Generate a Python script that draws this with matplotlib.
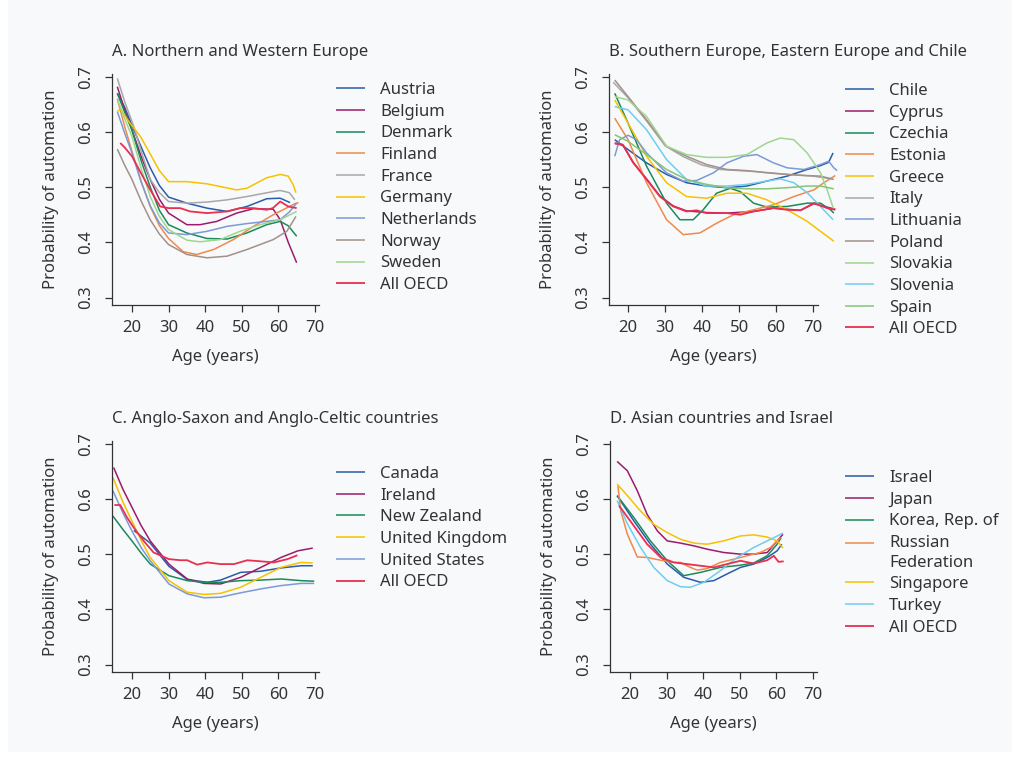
import matplotlib
matplotlib.use("Agg")
import matplotlib.pyplot as plt
import numpy as np
from matplotlib.patches import Rectangle
from matplotlib.lines import Line2D
from matplotlib.legend_handler import HandlerLine2D

plt.rcParams['font.family'] = ['Noto Sans', 'DejaVu Sans']
plt.rcParams['font.size'] = 12

# colours
BLUE = '#2a5caa'
PURPLE = '#9c1c6b'
GREEN = '#1b8a5a'
ORANGE = '#ee8a4a'
GRAY = '#a8a8a8'
YELLOW = '#f6c200'
LBLUE = '#7b9ad6'
BROWN = '#a39189'
LGREEN = '#9fd68f'
CYAN = '#6fcdf0'
SPAIN = '#85c575'
RED = '#e8304f'
INK = '#333333'

# ---- Panel A: Northern and Western Europe ----
austria_age = [16, 18, 20, 22.5, 25, 27.5, 30, 35, 40.5, 46, 51.4, 56.8, 60.5, 63.2]
austria_val = [0.67, 0.645, 0.612, 0.573, 0.535, 0.503, 0.482, 0.471, 0.462, 0.456, 0.465, 0.479, 0.48, 0.472]
belgium_age = [16, 18, 20, 22.5, 25, 27.5, 30, 35, 38.6, 43.2, 48.6, 53.2, 58.6, 60.5, 62.7, 65]
belgium_val = [0.682, 0.64, 0.604, 0.556, 0.514, 0.478, 0.453, 0.432, 0.432, 0.438, 0.453, 0.461, 0.46, 0.441, 0.40, 0.363]
denmark_age = [16, 18, 20, 22.5, 25, 27.5, 30, 35, 40.5, 46, 51.4, 56.8, 60.5, 62.7, 65]
denmark_val = [0.67, 0.636, 0.603, 0.548, 0.50, 0.458, 0.432, 0.417, 0.407, 0.406, 0.417, 0.432, 0.438, 0.43, 0.411]
finland_age = [16, 18, 20, 22.5, 25, 27.5, 30, 34, 37.7, 42.3, 47.7, 53.2, 58.6, 64.5, 65.5]
finland_val = [0.66, 0.61, 0.565, 0.51, 0.465, 0.43, 0.407, 0.383, 0.378, 0.387, 0.405, 0.429, 0.45, 0.47, 0.472]
france_age = [16, 18, 20.5, 23, 25, 27.5, 30, 35, 40.5, 46, 51.4, 58.6, 60.5, 63, 64.5]
france_val = [0.697, 0.655, 0.61, 0.555, 0.514, 0.49, 0.474, 0.471, 0.473, 0.477, 0.483, 0.492, 0.494, 0.49, 0.477]
germany_age = [16.1, 17, 19, 22.3, 25, 27.5, 30, 35, 40.5, 48.6, 51.4, 56.8, 60.5, 62.7, 64, 64.8]
germany_val = [0.638, 0.641, 0.62, 0.592, 0.56, 0.53, 0.51, 0.51, 0.506, 0.495, 0.498, 0.517, 0.523, 0.52, 0.505, 0.49]
netherlands_age = [16, 18, 20, 22.5, 25, 27.5, 30, 35, 40.5, 46, 51.4, 56.8, 60.5, 63, 65]
netherlands_val = [0.637, 0.598, 0.562, 0.51, 0.466, 0.435, 0.417, 0.414, 0.42, 0.429, 0.434, 0.438, 0.441, 0.455, 0.471]
norway_age = [16, 18, 20, 22.5, 25, 27.5, 30, 35, 40.5, 46, 51.4, 58.6, 62.3, 64.8]
norway_val = [0.569, 0.54, 0.514, 0.475, 0.441, 0.415, 0.396, 0.378, 0.372, 0.375, 0.387, 0.405, 0.42, 0.447]
sweden_age = [16.1, 18, 20, 22.5, 25, 27.5, 30, 35, 38.6, 44.1, 49.5, 55, 60.5, 65]
sweden_val = [0.658, 0.624, 0.592, 0.534, 0.483, 0.447, 0.423, 0.404, 0.401, 0.405, 0.42, 0.432, 0.441, 0.456]
oecd_a_age = [16.8, 18, 20, 22.5, 25, 27.7, 30, 33.2, 35.9, 40.5, 46, 49.5, 53.2, 56.8, 58.5, 60.5, 62.7, 65]
oecd_a_val = [0.58, 0.572, 0.556, 0.525, 0.495, 0.465, 0.462, 0.462, 0.456, 0.453, 0.456, 0.462, 0.462, 0.459, 0.462, 0.474, 0.465, 0.462]

# ---- Panel B: Southern Europe, Eastern Europe and Chile ----
chile_age = [16.4, 20, 25, 30.4, 35.8, 41.2, 46.7, 52.1, 57.5, 63, 68.4, 72, 74.2, 75.4]
chile_val = [0.586, 0.568, 0.544, 0.523, 0.508, 0.502, 0.499, 0.502, 0.511, 0.52, 0.532, 0.539, 0.545, 0.562]
cyprus_age = [16.4, 18.6, 21.4, 25, 28.6, 32.2, 35.8, 41.2, 46.7, 53.9, 59.3, 66.6, 70.2, 76]
cyprus_val = [0.579, 0.576, 0.545, 0.515, 0.484, 0.466, 0.457, 0.454, 0.453, 0.456, 0.462, 0.458, 0.47, 0.46]
czechia_age = [16.4, 20, 25, 30.4, 34, 37.6, 40.3, 43.9, 47.6, 50.3, 53.9, 57.5, 63, 68.4, 72, 74.7, 75.6]
czechia_val = [0.67, 0.616, 0.538, 0.471, 0.441, 0.441, 0.459, 0.489, 0.498, 0.492, 0.471, 0.464, 0.465, 0.471, 0.471, 0.459, 0.453]
estonia_age = [16.4, 20, 25, 30.4, 34.9, 39.4, 44, 48.5, 53.9, 59.3, 64.8, 70.2, 72.9, 76]
estonia_val = [0.625, 0.586, 0.508, 0.441, 0.414, 0.417, 0.435, 0.45, 0.459, 0.468, 0.483, 0.495, 0.508, 0.521]
greece_age = [16.4, 20, 25, 30.4, 35.8, 41.2, 46.7, 52.1, 57.5, 63, 68.4, 72, 75.6]
greece_val = [0.658, 0.616, 0.556, 0.508, 0.483, 0.48, 0.489, 0.489, 0.477, 0.459, 0.438, 0.42, 0.402]
italy_age = [16, 20, 25, 30, 35, 40, 45, 50, 55, 60, 65, 70, 75]
italy_val = [0.69, 0.662, 0.62, 0.575, 0.555, 0.54, 0.532, 0.53, 0.528, 0.525, 0.522, 0.52, 0.515]
lithuania_age = [16.4, 17.7, 20, 22.3, 25, 30.4, 34.9, 38.5, 43.1, 46.7, 51.2, 54.8, 59.3, 63, 67.5, 72, 74.2, 75.6, 76.5]
lithuania_val = [0.556, 0.586, 0.594, 0.586, 0.562, 0.526, 0.511, 0.512, 0.526, 0.544, 0.556, 0.559, 0.544, 0.535, 0.532, 0.541, 0.547, 0.535, 0.53]
poland_age = [16.4, 20, 25, 30.4, 35.8, 41.2, 46.7, 52.1, 57.5, 63, 68.4, 72, 75.6]
poland_val = [0.694, 0.664, 0.622, 0.574, 0.556, 0.541, 0.532, 0.53, 0.526, 0.523, 0.521, 0.52, 0.514]
slovakia_age = [16.4, 20, 25, 30.4, 35.8, 41.2, 46.7, 52.1, 57.5, 61.1, 64.8, 68.4, 72, 73.8, 75.6]
slovakia_val = [0.664, 0.658, 0.628, 0.574, 0.559, 0.554, 0.554, 0.559, 0.58, 0.589, 0.586, 0.562, 0.526, 0.495, 0.459]
slovenia_age = [16.4, 20, 25, 30.4, 35.8, 41.2, 46.7, 52.1, 57.5, 61.1, 64.8, 68.4, 72, 75.4]
slovenia_val = [0.646, 0.64, 0.604, 0.55, 0.514, 0.502, 0.502, 0.505, 0.511, 0.515, 0.508, 0.49, 0.465, 0.441]
spain_age = [16.4, 20, 25, 30.4, 35.8, 41.2, 46.7, 52.1, 57.5, 63, 68.4, 72, 75.6]
spain_val = [0.595, 0.583, 0.559, 0.532, 0.514, 0.505, 0.499, 0.497, 0.497, 0.499, 0.502, 0.502, 0.497]
oecd_b_age = [16.4, 18.6, 21.4, 25, 28.6, 32.2, 35.8, 38.5, 41.2, 46.7, 50.3, 53.9, 59.3, 63, 66.6, 70.2, 73.8, 76]
oecd_b_val = [0.58, 0.577, 0.544, 0.514, 0.483, 0.465, 0.456, 0.458, 0.453, 0.453, 0.45, 0.456, 0.462, 0.459, 0.458, 0.471, 0.462, 0.459]

# ---- Panel C: Anglo-Saxon and Anglo-Celtic countries ----
canada_age = [20.5, 25, 30.1, 35.1, 40.6, 44.2, 49.7, 55.2, 60.7, 66.2, 69.4]
canada_val = [0.543, 0.52, 0.478, 0.454, 0.449, 0.453, 0.467, 0.469, 0.475, 0.479, 0.479]
ireland_age = [15, 17.5, 20, 22.5, 25, 30.1, 35.1, 39.7, 44.2, 49.7, 55.2, 60.7, 65.3, 69.4]
ireland_val = [0.657, 0.618, 0.585, 0.552, 0.524, 0.482, 0.455, 0.447, 0.446, 0.458, 0.476, 0.494, 0.506, 0.511]
nz_age = [14.8, 17.5, 20, 22.5, 25, 30.1, 35.1, 39.7, 44.2, 49.7, 55.2, 60.7, 66.2, 69.8]
nz_val = [0.569, 0.545, 0.524, 0.502, 0.482, 0.461, 0.452, 0.449, 0.449, 0.452, 0.453, 0.455, 0.452, 0.451]
uk_age = [14.8, 17.5, 20, 22.5, 25, 30.1, 35.1, 39.7, 44.2, 49.7, 55.2, 60.7, 66.2, 69.4]
uk_val = [0.639, 0.595, 0.56, 0.525, 0.494, 0.452, 0.431, 0.427, 0.429, 0.44, 0.458, 0.476, 0.485, 0.484]
us_age = [14.8, 17.5, 20, 22.5, 25, 30.1, 35.1, 39.7, 44.2, 49.7, 55.2, 60.7, 66.2, 69.8]
us_val = [0.615, 0.575, 0.542, 0.512, 0.488, 0.446, 0.428, 0.421, 0.422, 0.43, 0.437, 0.443, 0.447, 0.447]
oecd_c_age = [15.2, 16.8, 18.6, 20.5, 23.2, 25.9, 30.1, 33.3, 35.1, 37.8, 40.6, 44.2, 47.9, 51.5, 55.2, 58.8, 62.5, 65.2]
oecd_c_val = [0.589, 0.589, 0.567, 0.548, 0.524, 0.503, 0.491, 0.489, 0.489, 0.481, 0.485, 0.482, 0.482, 0.489, 0.487, 0.485, 0.491, 0.498]

# ---- Panel D: Asian countries and Israel ----
israel_age = [16.5, 21.1, 25.6, 30.2, 34.7, 39.3, 42.9, 46.5, 50.2, 53.8, 57.5, 60.2, 61.5]
israel_val = [0.606, 0.56, 0.518, 0.482, 0.458, 0.449, 0.452, 0.464, 0.476, 0.482, 0.494, 0.506, 0.518]
japan_age = [16.5, 19.3, 22, 24.7, 27.5, 30.2, 33.8, 37.5, 41.1, 45.6, 50.2, 53.8, 57.5, 60.2, 61.8]
japan_val = [0.668, 0.651, 0.615, 0.572, 0.542, 0.524, 0.52, 0.515, 0.509, 0.503, 0.5, 0.5, 0.503, 0.524, 0.536]
korea_age = [16.5, 21.1, 25.6, 30.2, 34.7, 39.3, 44.7, 50.2, 53.8, 57.5, 60.2, 61.3]
korea_val = [0.606, 0.566, 0.524, 0.488, 0.461, 0.467, 0.476, 0.48, 0.484, 0.497, 0.518, 0.53]
russia_age = [16.7, 17.5, 19.3, 22, 24.7, 28.4, 32, 33.8, 36.5, 38.4, 41.1, 44.7, 48.4, 52, 55.6, 58.4, 61.1]
russia_val = [0.624, 0.578, 0.536, 0.495, 0.494, 0.489, 0.485, 0.485, 0.476, 0.471, 0.474, 0.485, 0.491, 0.497, 0.503, 0.512, 0.53]
singapore_age = [16.5, 19.3, 22.9, 26.5, 30.2, 33.8, 37.5, 41.1, 45.6, 50.2, 53.8, 57.5, 60.2, 61.8]
singapore_val = [0.627, 0.606, 0.578, 0.554, 0.539, 0.527, 0.52, 0.518, 0.524, 0.533, 0.535, 0.531, 0.524, 0.511]
turkey_age = [16.5, 19.3, 22.9, 26.5, 30.2, 33.8, 36.5, 40.2, 44.7, 49.3, 53.8, 57.5, 61.8]
turkey_val = [0.597, 0.555, 0.512, 0.476, 0.452, 0.441, 0.44, 0.449, 0.47, 0.494, 0.512, 0.524, 0.538]
oecd_d_age = [17, 21.1, 24.7, 28.4, 32, 35.6, 39.3, 42.9, 46.5, 50.2, 53.8, 57.5, 59.3, 60.6, 62]
oecd_d_val = [0.588, 0.551, 0.518, 0.494, 0.485, 0.482, 0.479, 0.476, 0.482, 0.488, 0.483, 0.489, 0.497, 0.486, 0.487]

panels = [
    dict(title='A. Northern and Western Europe', rect=(112, 74, 207, 231), xlim=(14.55, 71.1), spine_end=71.1,
         legend=(336, 82),
         series=[('Austria', austria_age, austria_val, BLUE),
                 ('Belgium', belgium_age, belgium_val, PURPLE),
                 ('Denmark', denmark_age, denmark_val, GREEN),
                 ('Finland', finland_age, finland_val, ORANGE),
                 ('France', france_age, france_val, GRAY),
                 ('Germany', germany_age, germany_val, YELLOW),
                 ('Netherlands', netherlands_age, netherlands_val, LBLUE),
                 ('Norway', norway_age, norway_val, BROWN),
                 ('Sweden', sweden_age, sweden_val, LGREEN),
                 ('All OECD', oecd_a_age, oecd_a_val, RED)]),
    dict(title='B. Southern Europe, Eastern Europe and Chile', rect=(609, 74, 230, 231), xlim=(14.85, 77.0), spine_end=71.4,
         legend=(845, 83),
         series=[('Chile', chile_age, chile_val, BLUE),
                 ('Cyprus', cyprus_age, cyprus_val, PURPLE),
                 ('Czechia', czechia_age, czechia_val, GREEN),
                 ('Estonia', estonia_age, estonia_val, ORANGE),
                 ('Greece', greece_age, greece_val, YELLOW),
                 ('Italy', italy_age, italy_val, GRAY),
                 ('Lithuania', lithuania_age, lithuania_val, LBLUE),
                 ('Poland', poland_age, poland_val, BROWN),
                 ('Slovakia', slovakia_age, slovakia_val, LGREEN),
                 ('Slovenia', slovenia_age, slovenia_val, CYAN),
                 ('Spain', spain_age, spain_val, SPAIN),
                 ('All OECD', oecd_b_age, oecd_b_val, RED)]),
    dict(title='C. Anglo-Saxon and Anglo-Celtic countries', rect=(112, 441, 207, 231), xlim=(14.55, 71.1), spine_end=71.1,
         legend=(336, 466),
         series=[('Canada', canada_age, canada_val, BLUE),
                 ('Ireland', ireland_age, ireland_val, PURPLE),
                 ('New Zealand', nz_age, nz_val, GREEN),
                 ('United Kingdom', uk_age, uk_val, YELLOW),
                 ('United States', us_age, us_val, LBLUE),
                 ('All OECD', oecd_c_age, oecd_c_val, RED)]),
    dict(title='D. Asian countries and Israel', rect=(610, 441, 207, 231), xlim=(14.55, 71.1), spine_end=71.1,
         legend=(845, 470),
         series=[('Israel', israel_age, israel_val, BLUE),
                 ('Japan', japan_age, japan_val, PURPLE),
                 ('Korea, Rep. of', korea_age, korea_val, GREEN),
                 ('Russian\nFederation', russia_age, russia_val, ORANGE),
                 ('Singapore', singapore_age, singapore_val, YELLOW),
                 ('Turkey', turkey_age, turkey_val, CYAN),
                 ('All OECD', oecd_d_age, oecd_d_val, RED)]),
]


class FirstLineHandler(HandlerLine2D):
    # put the legend key level with the first line of a two-line label
    def create_artists(self, legend, orig_handle, xdescent, ydescent, width, height, fontsize, trans):
        arts = super().create_artists(legend, orig_handle, xdescent, ydescent, width, height, fontsize, trans)
        for a in arts:
            if isinstance(a, Line2D):
                a.set_ydata(np.asarray(a.get_ydata()) + 0.58 * fontsize)
        return arts


W, H = 1020, 760
fig = plt.figure(figsize=(W / 100, H / 100), dpi=100, facecolor='white')
fig.patches.append(Rectangle((8 / W, 8 / H), 1004 / W, 1 - 8 / H, transform=fig.transFigure,
                             facecolor='#f8f9fb', edgecolor='none', zorder=-10))

for p in panels:
    x0, y0, w, h = p['rect']
    ax = fig.add_axes([x0 / W, 1 - (y0 + h) / H, w / W, h / H])
    ax.set_facecolor('none')
    hmap = {}
    for name, age, val, col in p['series']:
        lw = 1.3 if name == 'All OECD' else 1.1
        ln, = ax.plot(age, val, color=col, lw=lw, label=name, solid_capstyle='butt')
        if '\n' in name:
            hmap[ln] = FirstLineHandler()
    ax.set_xlim(*p['xlim'])
    ax.set_ylim(0.2865, 0.705)
    ax.set_xticks([20, 30, 40, 50, 60, 70])
    ax.set_yticks([0.3, 0.4, 0.5, 0.6, 0.7])
    ax.set_yticklabels(['0.3', '0.4', '0.5', '0.6', '0.7'], rotation=90, va='center')
    for s in ['top', 'right']:
        ax.spines[s].set_visible(False)
    for s in ['left', 'bottom']:
        ax.spines[s].set_color(INK)
        ax.spines[s].set_linewidth(0.9)
    ax.spines['bottom'].set_bounds(p['xlim'][0], p['spine_end'])
    ax.tick_params(colors=INK, labelcolor=INK, length=5, width=0.9, labelsize=12)
    ax.tick_params(axis='x', pad=5.5)
    ax.tick_params(axis='y', pad=8)
    ax.set_title(p['title'], loc='left', color=INK, fontsize=12, pad=13)
    ax.set_xlabel('Age (years)', color=INK, fontsize=12)
    ax.set_ylabel('Probability of automation', color=INK, fontsize=12)
    frac = (p['spine_end'] - p['xlim'][0]) / (p['xlim'][1] - p['xlim'][0])
    ax.xaxis.set_label_coords(frac / 2, -44 / h)
    ax.yaxis.set_label_coords(-53 / w, 0.5)
    lx, ly = p['legend']
    leg = ax.legend(loc='upper left', bbox_to_anchor=(lx / W, 1 - ly / H), bbox_transform=fig.transFigure,
                    frameon=False, borderpad=0, borderaxespad=0, handlelength=1.75, handletextpad=0.9,
                    labelspacing=0.34, fontsize=12, labelcolor=INK, handler_map=hmap)
    for t in leg.get_texts():
        t.set_linespacing(1.3)

fig.savefig('out.png', dpi=100, facecolor=fig.get_facecolor())
